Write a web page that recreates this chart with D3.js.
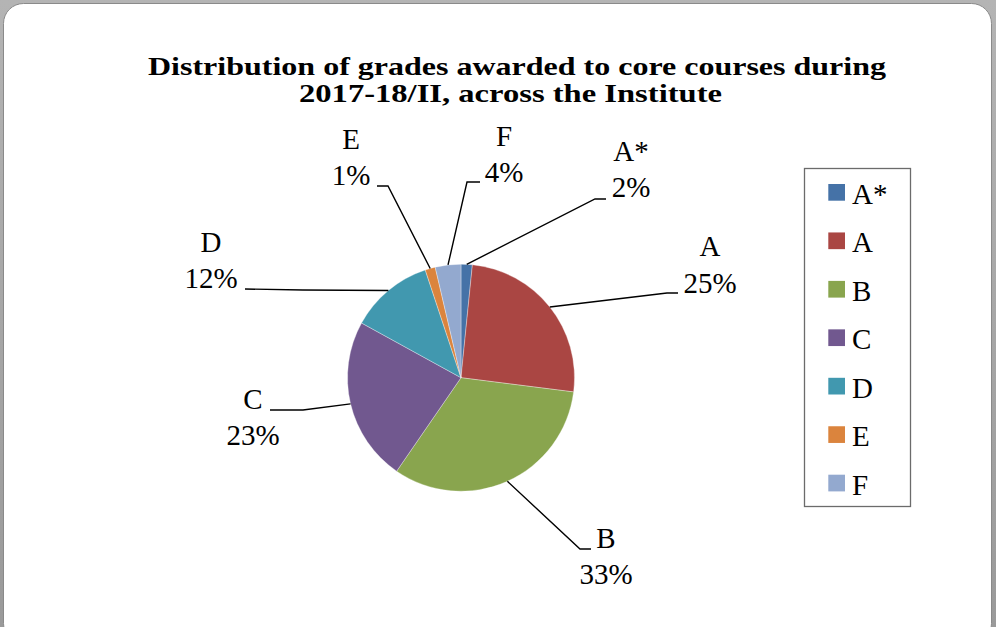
<!DOCTYPE html>
<html>
<head>
<meta charset="utf-8">
<script src="https://cdn.jsdelivr.net/npm/d3@7"></script>
<style>
  html, body { margin: 0; padding: 0; background: #fff; }
  svg { display: block; }
</style>
</head>
<body>
<svg id="chart" width="996" height="627"></svg>
<script>
// ---- data ----
const categories = ["A*", "A", "B", "C", "D", "E", "F"];
const shares = [1.6, 25.4, 32.6, 23.4, 11.9, 1.45, 3.65];
const colors = ["#4572A7", "#AA4643", "#89A54E", "#71588F", "#4198AF", "#DB843D", "#93A9CF"];
const titleLines = ["Distribution of grades awarded to core courses during", "2017-18/II, across the Institute"];

// ---- layout (label placement, not data) ----
const labelLayout = [
  { cx: 631, nameY: 161, pctY: 197, elbow: [595, 199], end: [606, 199] },
  { cx: 710, nameY: 256, pctY: 293, elbow: [667, 293], end: [678, 293] },
  { cx: 606, nameY: 548, pctY: 584, elbow: [580, 549], end: [591, 549] },
  { cx: 253, nameY: 409, pctY: 445, elbow: [303, 410], end: [270, 410] },
  { cx: 211, nameY: 252, pctY: 288, elbow: [303, 290], end: [245, 289] },
  { cx: 351, nameY: 149, pctY: 185, elbow: [388, 186], end: [377, 186] },
  { cx: 504, nameY: 146, pctY: 182, elbow: [467, 182], end: [480, 182] }
];

const W = 996, H = 627;
const svg = d3.select("#chart");

// pick a Times-like face if one is installed, else DejaVu Serif
function hasFont(name) {
  const t = svg.append("text").attr("font-size", 40).text("abcdefgWIl12%AB*");
  t.attr("font-family", "monospace");
  const w0 = t.node().getComputedTextLength();
  t.attr("font-family", `"${name}", monospace`);
  const w1 = t.node().getComputedTextLength();
  t.remove();
  return Math.abs(w1 - w0) > 0.5;
}
const candidates = ["Liberation Serif", "Times New Roman", "Tinos", "Nimbus Roman", "FreeSerif", "Times"];
const found = candidates.find(hasFont);
const serif = found ? `"${found}", serif` : `"DejaVu Serif", serif`;
const timesLike = !!found;
const labelSize = timesLike ? 29 : 26.5;
const titleSize = timesLike ? 26 : 24;

// Times-style advance widths (per 1000 em) used to keep label widths like the reference
const timesAdv = { "0": 500, "1": 500, "2": 500, "3": 500, "4": 500, "5": 500, "6": 500, "7": 500, "8": 500, "9": 500,
  "%": 833, "A": 722, "*": 500, "B": 667, "C": 667, "D": 722, "E": 611, "F": 556 };
const timesWidth = s => d3.sum(Array.from(s), ch => timesAdv[ch] || 500) * 29 / 1000;

// frame
const defs = svg.append("defs");
const grad = defs.append("linearGradient").attr("id", "bg").attr("x1", 0).attr("y1", 0).attr("x2", 0).attr("y2", 1);
grad.append("stop").attr("offset", 0).attr("stop-color", "#b4b4b4");
grad.append("stop").attr("offset", 1).attr("stop-color", "#9a9a9a");
svg.append("rect").attr("width", W).attr("height", H).attr("fill", "url(#bg)");
svg.append("rect")
  .attr("x", 3.5).attr("y", 3.5).attr("width", 988).attr("height", 640)
  .attr("rx", 20).attr("ry", 20)
  .attr("fill", "#ffffff").attr("stroke", "#8a8a8a").attr("stroke-width", 1);

// title
const title = svg.append("text")
  .attr("font-family", serif).attr("font-weight", "bold").attr("font-size", titleSize)
  .attr("fill", "#000").attr("text-anchor", "middle");
const titleX = [517, 510.5], titleY = [75, 102], titleLen = [738, 423];
titleLines.forEach((t, i) => {
  title.append("tspan").attr("x", titleX[i]).attr("y", titleY[i])
    .attr("textLength", titleLen[i]).attr("lengthAdjust", "spacingAndGlyphs").text(t);
});

// pie
const cx = 461, cy = 377.7, r = 113.5;
const pie = d3.pie().sort(null).value(d => d);
const arcs = pie(shares);
const arc = d3.arc().innerRadius(0).outerRadius(r);
const edgeArc = d3.arc().innerRadius(r).outerRadius(r);
const color = d3.scaleOrdinal().domain(categories).range(colors);

const g = svg.append("g").attr("transform", `translate(${cx},${cy})`);
g.selectAll("path.slice").data(arcs).enter().append("path")
  .attr("class", "slice")
  .attr("d", arc)
  .attr("fill", (d, i) => color(categories[i]))
  .attr("stroke", "rgba(255,255,255,0.55)")
  .attr("stroke-width", 0.6);

// leader lines
const line = d3.line();
svg.selectAll("path.leader").data(arcs).enter().append("path")
  .attr("class", "leader")
  .attr("d", (d, i) => {
    const c = edgeArc.centroid(d);
    const L = labelLayout[i];
    return line([[cx + c[0], cy + c[1]], L.elbow, L.end]);
  })
  .attr("fill", "none").attr("stroke", "#000").attr("stroke-width", 1.4);

// labels
const total = d3.sum(shares);
function fitText(sel) {
  sel.each(function () {
    const s = d3.select(this).text();
    d3.select(this).attr("textLength", timesWidth(s)).attr("lengthAdjust", "spacingAndGlyphs");
  });
}
const lbl = svg.selectAll("g.lbl").data(arcs).enter().append("g").attr("class", "lbl")
  .attr("font-family", serif).attr("font-size", labelSize).attr("fill", "#000").attr("text-anchor", "middle");
lbl.append("text").attr("x", (d, i) => labelLayout[i].cx).attr("y", (d, i) => labelLayout[i].nameY)
  .text((d, i) => categories[i]).call(fitText);
lbl.append("text").attr("x", (d, i) => labelLayout[i].cx).attr("y", (d, i) => labelLayout[i].pctY)
  .text(d => Math.round(d.value / total * 100) + "%").call(fitText);

// legend
const legend = svg.append("g");
legend.append("rect").attr("x", 804.5).attr("y", 168.5).attr("width", 106).attr("height", 338)
  .attr("fill", "#fff").attr("stroke", "#6b6b6b").attr("stroke-width", 1.3);
const ly = d3.scalePoint().domain(categories).range([192.3, 483]);
const items = legend.selectAll("g.item").data(categories).enter().append("g").attr("class", "item");
items.append("rect").attr("x", 828.3).attr("y", d => ly(d) - 8.3).attr("width", 16.7).attr("height", 16.7)
  .attr("fill", d => color(d));
items.append("text").attr("x", 852).attr("y", d => ly(d) + 11.5)
  .attr("font-family", serif).attr("font-size", labelSize).attr("fill", "#000").text(d => d).call(fitText);
</script>
</body>
</html>
